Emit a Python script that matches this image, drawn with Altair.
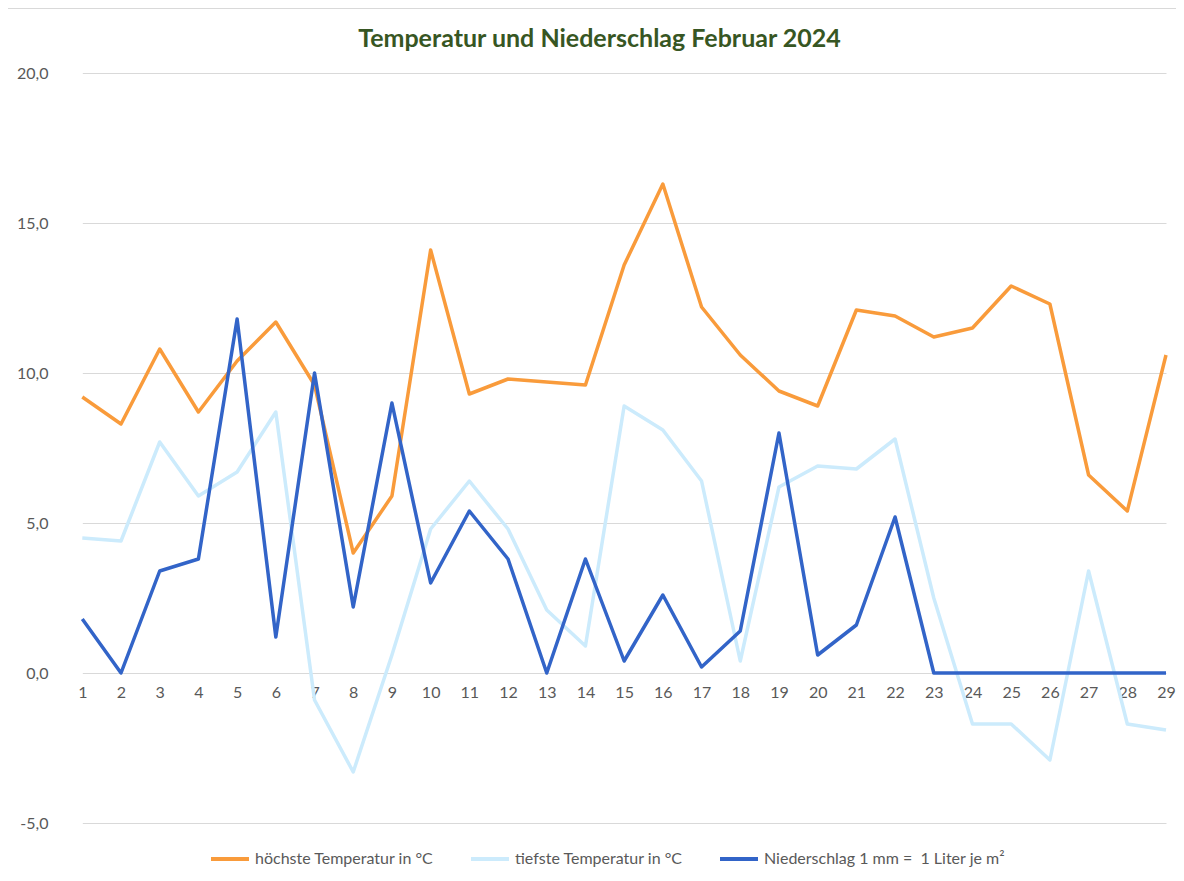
import altair as alt
import pandas as pd

days = list(range(1, 30))
hoechste = [9.2, 8.3, 10.8, 8.7, 10.4, 11.7, 9.6, 4.0, 5.9, 14.1, 9.3, 9.8, 9.7, 9.6, 13.6,
            16.3, 12.2, 10.6, 9.4, 8.9, 12.1, 11.9, 11.2, 11.5, 12.9, 12.3, 6.6, 5.4, 10.6]
tiefste = [4.5, 4.4, 7.7, 5.9, 6.7, 8.7, -0.9, -3.3, 0.6, 4.8, 6.4, 4.8, 2.1, 0.9, 8.9,
           8.1, 6.4, 0.4, 6.2, 6.9, 6.8, 7.8, 2.5, -1.7, -1.7, -2.9, 3.4, -1.7, -1.9]
niederschlag = [1.8, 0.0, 3.4, 3.8, 11.8, 1.2, 10.0, 2.2, 9.0, 3.0, 5.4, 3.8, 0.0, 3.8, 0.4,
                2.6, 0.2, 1.4, 8.0, 0.6, 1.6, 5.2, 0.0, 0.0, 0.0, 0.0, 0.0, 0.0, 0.0]

series_names = ["höchste Temperatur in °C", "tiefste Temperatur in °C",
                "Niederschlag 1 mm =\u00a0 1 Liter je m²"]
series_colors = ["#F99B3B", "#CCEBFC", "#3264C8"]

rows = []
for name, vals in zip(series_names, [hoechste, tiefste, niederschlag]):
    for d, v in zip(days, vals):
        rows.append({"Tag": d, "Wert": v, "Serie": name})
df = pd.DataFrame(rows)

FONT = "Lato"
W = 1113

lines = alt.Chart(df).mark_line(strokeWidth=3.5, strokeJoin="round").encode(
    x=alt.X("Tag:O", sort=days,
            scale=alt.Scale(type="point", padding=0, range=[19.3, 1103]),
            axis=alt.Axis(title=None, labelAngle=0, domain=False, ticks=False,
                          grid=False, offset=-150, labelPadding=11,
                          labelFontSize=16, labelColor="#595959", labelFont=FONT)),
    y=alt.Y("Wert:Q",
            scale=alt.Scale(domain=[-5, 20], nice=False),
            axis=alt.Axis(title=None, values=[-5, 0, 5, 10, 15, 20], domain=False, ticks=False,
                          gridColor="#D9D9D9", gridWidth=1,
                          labelExpr="replace(replace(format(datum.value, '.1f'), '.', ','), '\u2212', '-')",
                          labelPadding=15, labelFontSize=16, labelColor="#595959", labelFont=FONT)),
    color=alt.Color("Serie:N",
                    scale=alt.Scale(domain=series_names, range=series_colors),
                    sort=series_names,
                    legend=alt.Legend(title=None, orient="none", direction="horizontal",
                                      legendX=146, legendY=765,
                                      symbolType="stroke", symbolStrokeWidth=4, symbolSize=1444,
                                      labelOffset=4,
                                      labelFontSize=16, labelColor="#595959", labelFont=FONT,
                                      columnPadding=29, labelLimit=400)),
    order=alt.Order("Tag:Q"),
)

# light chart frame (decoration only)
frame = alt.Chart(pd.DataFrame({"f": [0]})).mark_rect(
    fillOpacity=0, stroke="#D9D9D9", strokeWidth=1
).encode(
    x=alt.value(-55.5), x2=alt.value(W + 20),
    y=alt.value(-64.5), y2=alt.value(900),
)

chart = alt.layer(frame, lines).properties(
    width=W,
    height=750,
    autosize=alt.AutoSizeParams(type="none"),
    padding={"left": 55, "top": 65, "right": 0, "bottom": 45},
    title=alt.Title("Temperatur und Niederschlag Februar 2024", font=FONT, fontSize=25,
                    fontWeight="bold", color="#375623", anchor="middle", dx=-20, offset=-44),
).configure_view(stroke=None)

chart.save("out.html", embed_options={"renderer": "svg", "actions": False})
